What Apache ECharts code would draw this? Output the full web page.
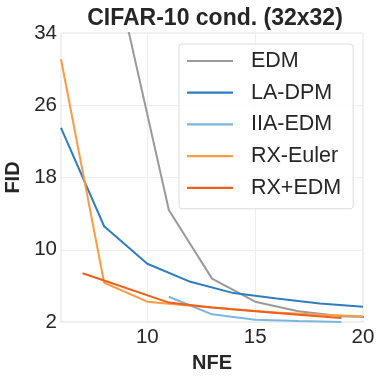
<!DOCTYPE html>
<html lang="en">
<head>
<meta charset="utf-8">
<title>CIFAR-10 cond. FID vs NFE</title>
<script src="https://cdn.jsdelivr.net/npm/echarts@6/dist/echarts.min.js"></script>
<style>
  html, body { margin: 0; padding: 0; background: #fff; }
  #chart { width: 381px; height: 381px; }
</style>
</head>
<body>
<div id="chart"></div>
<script>
// values
var xTicks = [10, 15, 20];
var yTicks = [2, 10, 18, 26, 34];

var nfeEDM = [9, 11, 13, 15, 17, 19, 21];
var fidEDM = [35.6, 14.4, 6.8, 4.25, 3.2, 2.65, 2.45];

var nfeLADPM = [6, 8, 10, 12, 14, 16, 18, 20];
var fidLADPM = [23.5, 12.6, 8.45, 6.45, 5.2, 4.6, 4.05, 3.7];

var nfeIIA = [11, 13, 15, 17, 19];
var fidIIA = [4.8, 2.85, 2.25, 2.1, 2.0];

var nfeRXEuler = [6, 8, 10, 12, 14, 16, 18, 20];
var fidRXEuler = [31.1, 6.35, 4.25, 3.8, 3.4, 3.05, 2.8, 2.65];

var nfeRXEDM = [7, 8, 11, 13, 15, 17, 19];
var fidRXEDM = [7.4, 6.6, 4.15, 3.6, 3.2, 2.8, 2.45];

var names = ['EDM', 'LA-DPM', 'IIA-EDM', 'RX-Euler', 'RX+EDM'];

function pairs(xs, ys) {
  var out = [];
  for (var i = 0; i < xs.length; i++) out.push([xs[i], ys[i]]);
  return out;
}

function line(name, xs, ys, color) {
  return {
    name: name,
    type: 'line',
    data: pairs(xs, ys),
    symbol: 'none',
    clip: true,
    lineStyle: { color: color, width: 2 },
    itemStyle: { color: color }
  };
}

var font = 'Liberation Sans';
var chart = echarts.init(document.getElementById('chart'));
chart.setOption({
  animation: false,
  backgroundColor: '#fff',
  title: {
    text: 'CIFAR-10 cond. (32x32)',
    left: 210, top: 2, textAlign: 'center',
    textStyle: { fontFamily: font, fontSize: 23, fontWeight: 'bold', color: '#262626' }
  },
  grid: {
    left: 61, right: 18, top: 33, bottom: 59,
    outerBoundsMode: 'none',
    show: true, borderColor: '#e3e3e3', borderWidth: 1
  },
  legend: {
    orient: 'vertical',
    left: 179, top: 44,
    padding: [6, 12, 10, 8],
    itemWidth: 46, itemHeight: 22, itemGap: 9.7,
    icon: 'path://M0,0H46V2.2H0Z',
    backgroundColor: 'rgba(255,255,255,0.85)',
    borderColor: '#dcdcdc', borderWidth: 1, borderRadius: 3,
    textStyle: { fontFamily: font, fontSize: 21.5, color: '#262626', lineHeight: 22, padding: [0, 0, 0, 13] },
    data: names
  },
  xAxis: {
    type: 'value', min: 6, max: 20,
    name: 'NFE', nameLocation: 'middle', nameGap: 31,
    nameTextStyle: { fontFamily: font, fontSize: 20, fontWeight: 'bold', color: '#262626' },
    axisLine: { show: false },
    axisTick: { show: false, customValues: xTicks },
    axisLabel: { customValues: xTicks, fontFamily: font, fontSize: 20.5, color: '#262626', margin: 5 },
    splitLine: { show: true, lineStyle: { color: '#efefef', width: 1 } }
  },
  yAxis: {
    type: 'value', min: 2, max: 34,
    name: 'FID', nameLocation: 'middle', nameGap: 35,
    nameTextStyle: { fontFamily: font, fontSize: 20, fontWeight: 'bold', color: '#262626' },
    axisLine: { show: false },
    axisTick: { show: false, customValues: yTicks },
    axisLabel: { customValues: yTicks, fontFamily: font, fontSize: 20.5, color: '#262626', margin: 4 },
    splitLine: { show: true, lineStyle: { color: '#efefef', width: 1 } }
  },
  series: [
    line(names[0], nfeEDM, fidEDM, '#9a9a9a'),
    line(names[1], nfeLADPM, fidLADPM, '#2f7dc0'),
    line(names[2], nfeIIA, fidIIA, '#7ab6de'),
    line(names[3], nfeRXEuler, fidRXEuler, '#ff9a45'),
    line(names[4], nfeRXEDM, fidRXEDM, '#ef5f1c')
  ]
});
</script>
</body>
</html>
